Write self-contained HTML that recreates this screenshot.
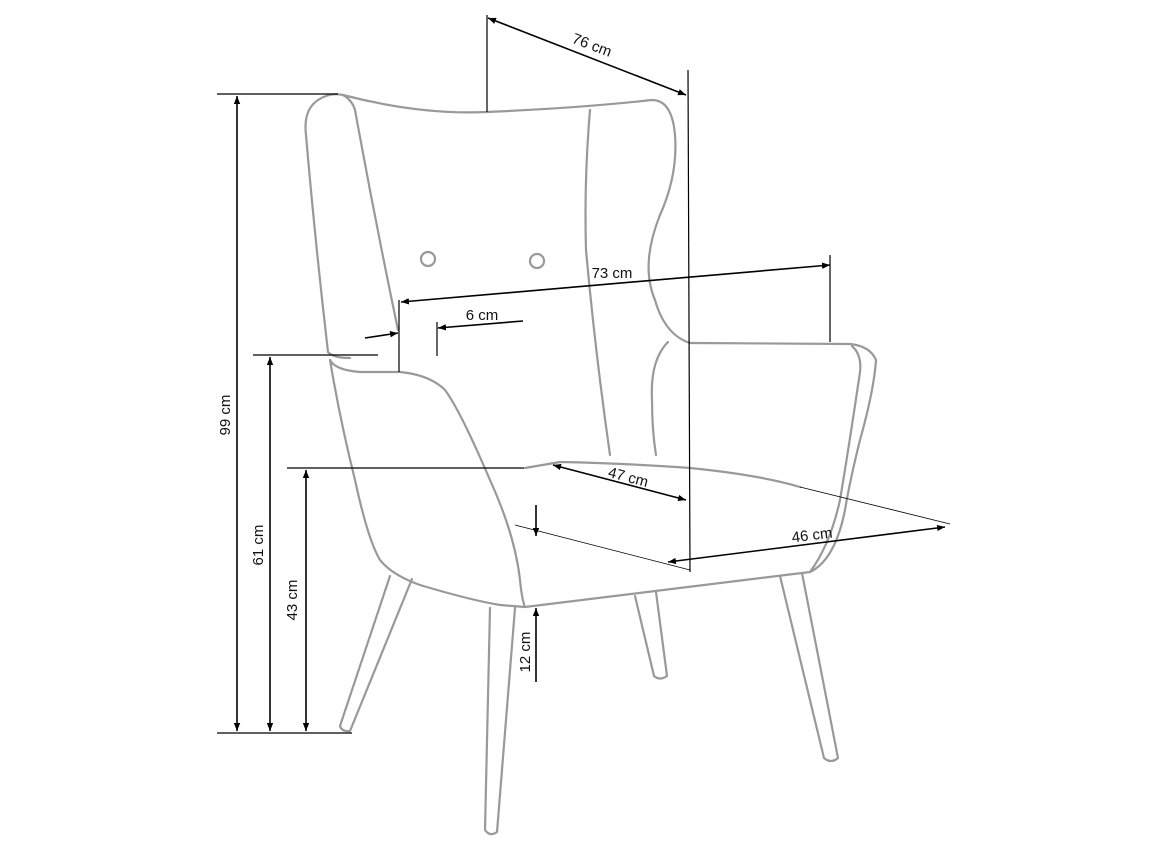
<!DOCTYPE html>
<html><head><meta charset="utf-8"><style>
html,body{margin:0;padding:0;background:#fff;}
svg{display:block}
text{font-family:"Liberation Sans",sans-serif;font-size:15px;fill:#111}
</style></head><body>
<svg width="1154" height="866" viewBox="0 0 1154 866" xmlns="http://www.w3.org/2000/svg">
<defs>
<marker id="a" viewBox="0 0 10 10" refX="10" refY="5" markerWidth="8" markerHeight="8" orient="auto-start-reverse" markerUnits="userSpaceOnUse"><path d="M0,1 L10,5 L0,9 z" fill="#000"/></marker>
</defs>
<g fill="none" stroke="#999" stroke-width="2.2" stroke-linejoin="round" stroke-linecap="round">
<path d="M343,95 Q420,115 487,112 Q580,108 652,100 Q672,100 675,135 Q678,175 660,215 Q640,265 655,300 Q665,335 690,343 L850,344 Q870,346 876,360 Q874,390 860,440 Q850,480 845,510 Q835,560 810,572"/>
<path d="M343,95 Q330,92 318,100 Q303,110 306,135 Q315,240 328,352 Q333,358 350,358"/>
<path d="M343,95 Q352,100 355,110 Q375,220 398,330"/>
<path d="M590,110 Q584,180 586,250 Q595,350 610,455"/>
<path d="M668,342 Q650,360 652,400 Q652,430 656,455"/>
<path d="M330,360 Q335,370 360,372 L400,372 Q430,375 445,390 Q460,410 490,480 Q515,535 520,580 Q522,600 525,607"/>
<path d="M330,360 Q340,420 355,480 Q368,540 380,560 Q392,575 420,585 Q470,600 500,605 L525,607"/>
<path d="M525,607 L810,572"/>
<path d="M525,468 L560,462 Q620,463 690,468 Q760,475 800,487"/>
<path d="M852,346 Q862,355 860,372 Q850,440 840,500 Q830,545 810,572"/>
<circle cx="428" cy="259" r="7"/>
<circle cx="537" cy="261" r="7"/>
<path d="M390,576 L340,726 Q342,732 350,731 L412,579"/>
<path d="M490,608 L485,830 Q490,837 497,832 L515,608"/>
<path d="M635,596 L654,676 Q660,681 667,676 L656,592"/>
<path d="M780,576 L824,758 Q831,764 838,758 L802,573"/>
</g>
<g stroke="#000" stroke-width="1.2" fill="none">
<line x1="217" y1="94" x2="338" y2="94"/>
<line x1="217" y1="733" x2="352" y2="733"/>
<line x1="253" y1="355" x2="378" y2="355"/>
<line x1="287" y1="468" x2="524" y2="468"/>
<line x1="487" y1="15" x2="487" y2="112"/>
<line x1="688" y1="70" x2="690" y2="572"/>
<line x1="830" y1="255" x2="830" y2="342"/>
<line x1="399" y1="300" x2="399" y2="372"/>
<line x1="437" y1="322" x2="437" y2="356"/>
<line x1="800" y1="487" x2="950" y2="524" stroke-width="0.8"/>
<line x1="515" y1="525" x2="690" y2="570" stroke-width="0.8"/>
</g>
<g stroke="#000" stroke-width="1.6" fill="none">
<line x1="237" y1="96" x2="237" y2="731" marker-start="url(#a)" marker-end="url(#a)"/>
<line x1="270" y1="357" x2="270" y2="731" marker-start="url(#a)" marker-end="url(#a)"/>
<line x1="306" y1="470" x2="306" y2="731" marker-start="url(#a)" marker-end="url(#a)"/>
<line x1="536" y1="505" x2="536" y2="536" marker-end="url(#a)"/>
<line x1="536" y1="682" x2="536" y2="608" marker-end="url(#a)"/>
<line x1="488" y1="18" x2="686" y2="95" marker-start="url(#a)" marker-end="url(#a)"/>
<line x1="401" y1="302" x2="830" y2="265" marker-start="url(#a)" marker-end="url(#a)"/>
<line x1="365" y1="338" x2="398" y2="333" marker-end="url(#a)"/>
<line x1="523" y1="321" x2="438" y2="328" marker-end="url(#a)"/>
<line x1="553" y1="465" x2="686" y2="500" marker-start="url(#a)" marker-end="url(#a)"/>
<line x1="668" y1="562" x2="945" y2="527" marker-start="url(#a)" marker-end="url(#a)"/>
</g>
<text x="592" y="50" text-anchor="middle" transform="rotate(21 592 45)">76 cm</text>
<text x="612" y="278" text-anchor="middle">73 cm</text>
<text x="482" y="320" text-anchor="middle">6 cm</text>
<text x="628" y="482" text-anchor="middle" transform="rotate(15 628 478)">47 cm</text>
<text x="812" y="540" text-anchor="middle" transform="rotate(-7 812 535)">46 cm</text>
<text x="225" y="415" text-anchor="middle" transform="rotate(-90 225 415)" dy="5">99 cm</text>
<text x="258" y="545" text-anchor="middle" transform="rotate(-90 258 545)" dy="5">61 cm</text>
<text x="292" y="600" text-anchor="middle" transform="rotate(-90 292 600)" dy="5">43 cm</text>
<text x="525" y="652" text-anchor="middle" transform="rotate(-90 525 652)" dy="5">12 cm</text>
</svg>
</body></html>
